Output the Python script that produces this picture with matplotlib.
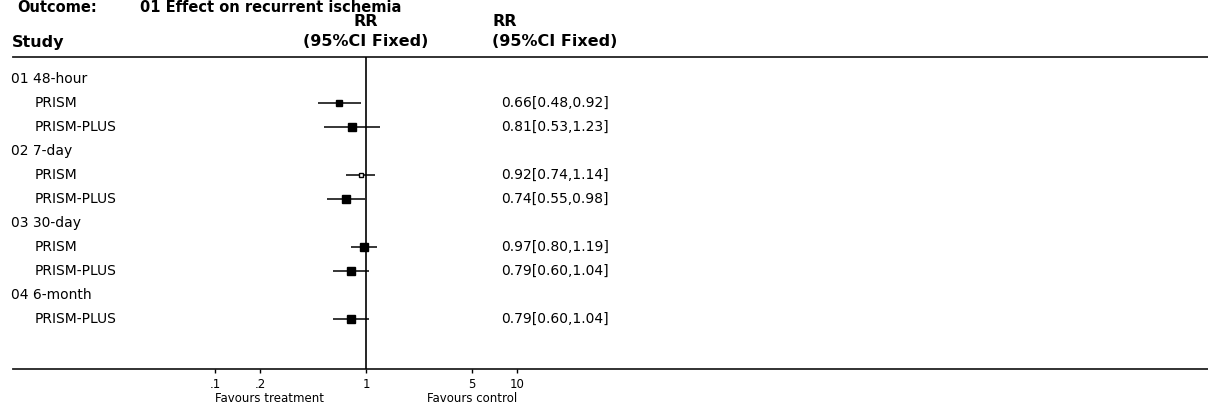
import matplotlib
matplotlib.use("Agg")
import matplotlib.pyplot as plt
import matplotlib.transforms as mtransforms

# ---- data ----
groups = ["01 48-hour", "02 7-day", "03 30-day", "04 6-month"]
group_studies = [["PRISM", "PRISM-PLUS"], ["PRISM", "PRISM-PLUS"],
                 ["PRISM", "PRISM-PLUS"], ["PRISM-PLUS"]]
rr = [0.66, 0.81, 0.92, 0.74, 0.97, 0.79, 0.79]
ci_lo = [0.48, 0.53, 0.74, 0.55, 0.80, 0.60, 0.60]
ci_hi = [0.92, 1.23, 1.14, 0.98, 1.19, 1.04, 1.04]
box_px = [5, 6, 4, 6, 7, 6, 6]          # weight boxes, pixels
hollow = [False, False, True, False, False, False, False]
tick_vals = [0.1, 0.2, 1, 5, 10]
tick_labels = [".1", ".2", "1", "5", "10"]

W, H = 1208, 408
X_ONE, DECADE = 366, 151                 # pixel of RR=1 and pixels per decade
ROW0, ROW_H = 79, 24
TOP_RULE, AXIS_Y = 57, 369

fig = plt.figure(figsize=(W / 100, H / 100), dpi=100)
ax = fig.add_axes([0, 0, 1, 1])
ax.set_xscale("log")
ax.set_xlim(10 ** (-X_ONE / DECADE), 10 ** ((W - X_ONE) / DECADE))
ax.set_ylim(H, 0)
ax.axis("off")
tr = mtransforms.blended_transform_factory(ax.transAxes, ax.transData)


def px(x):
    return x / W


# title (sits right at the top edge in the reference)
ax.text(px(17), 11.5, "Outcome:", transform=tr, fontsize=10.5, fontweight="bold", va="baseline")
ax.text(px(140), 11.5, "01 Effect on recurrent ischemia", transform=tr, fontsize=10.5,
        fontweight="bold", va="baseline")

# headers
hdr = dict(fontsize=11.5, fontweight="bold", va="center")
ax.text(1, 21, "RR", ha="center", **hdr)
ax.text(1, 42, "(95%CI Fixed)", ha="center", **hdr)
ax.text(px(493), 21, "RR", transform=tr, **hdr)
ax.text(px(492), 42, "(95%CI Fixed)", transform=tr, **hdr)
ax.text(px(12), 42, "Study", transform=tr, **hdr)

# rules
ax.plot([px(13), 1], [TOP_RULE, TOP_RULE], transform=tr, color="#222222", lw=1.3)
ax.plot([px(13), 1], [AXIS_Y, AXIS_Y], transform=tr, color="#222222", lw=1.3)
ax.vlines(1, TOP_RULE, AXIS_Y, color="black", lw=1.2)

# rows
row = 0
k = 0
for g, studies in zip(groups, group_studies):
    y = ROW0 + ROW_H * row
    ax.text(px(11), y, g, transform=tr, fontsize=10, va="center")
    row += 1
    for s in studies:
        y = ROW0 + ROW_H * row
        ax.text(px(35), y, s, transform=tr, fontsize=10, va="center")
        ax.hlines(y, ci_lo[k], ci_hi[k], color="black", lw=1.1)
        ax.plot(rr[k], y, marker="s", ms=box_px[k] * 0.85, mec="black",
                mfc="white" if hollow[k] else "black", mew=1.0)
        ax.text(px(501), y, f"{rr[k]:.2f}[{ci_lo[k]:.2f},{ci_hi[k]:.2f}]",
                transform=tr, fontsize=10, va="center")
        row += 1
        k += 1

# x axis ticks
for v, lab in zip(tick_vals, tick_labels):
    ax.vlines(v, AXIS_Y, AXIS_Y + 4, color="black", lw=1.0)
    ax.text(v, 384, lab, fontsize=8.5, ha="center", va="center")
ax.text(0.1, 399, "Favours treatment", fontsize=8.5, ha="left", va="center")
ax.text(10, 399, "Favours control", fontsize=8.5, ha="right", va="center")

fig.savefig("out.png", dpi=100)
